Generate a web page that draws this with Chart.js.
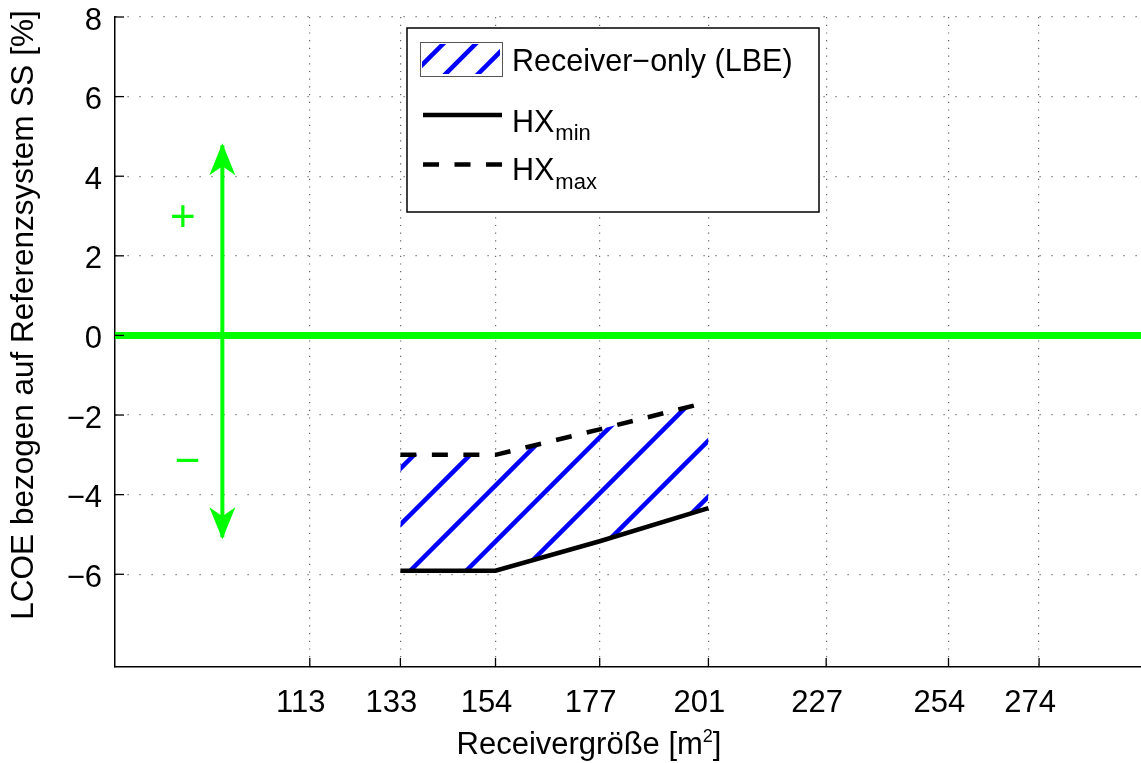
<!DOCTYPE html>
<html>
<head>
<meta charset="utf-8">
<script src="https://cdn.jsdelivr.net/npm/chart.js@4.4.0/dist/chart.umd.min.js"></script>
<style>
  html, body { margin: 0; padding: 0; background: #fff; }
  #lcoe_chart { display: block; }
</style>
</head>
<body>
<canvas id="lcoe_chart" width="1141" height="763"></canvas>
<script>
'use strict';

// Chart data
const receiverSizes = [133, 154, 177, 201];
const hxMin = [-5.91, -5.91, -5.17, -4.34];
const hxMax = [-3.0, -3.0, -2.36, -1.67];
const xTickValues = [113, 133, 154, 177, 201, 227, 254, 274];
const yTickValues = [8, 6, 4, 2, 0, -2, -4, -6];
const xLimits = [70, 296.5];
const yLimits = [-8.33, 8];
const zeroLineY = [0, 0];
const arrowX = [93.7, 93.7];
const arrowY = [4.78, -5.07];
const signText = ['+', '\u2212'];
const signX = [85, 86];
const signY = [2.92, -3.2];

const FONT = "'Liberation Sans', Arial, Helvetica, sans-serif";
const GREEN = 'rgb(0, 255, 0)';
const BLUE = 'rgb(0, 0, 255)';

Chart.defaults.font.family = FONT;
Chart.defaults.color = '#000';

function toPoints(xs, ys) {
  return xs.map((x, i) => ({x: x, y: ys[i]}));
}

function minusFormat(v) {
  return v < 0 ? '\u2212' + Math.abs(v) : String(v);
}

// blue diagonal hatch for the receiver-only band
function makeHatch() {
  const size = 56, offset = 29;
  const tile = document.createElement('canvas');
  tile.width = size;
  tile.height = size;
  const g = tile.getContext('2d');
  g.strokeStyle = BLUE;
  g.lineWidth = 4.5;
  for (let k = -1; k <= 2; k++) {
    const c = offset + k * size;
    g.beginPath();
    g.moveTo(c + 10, -10);
    g.lineTo(-10, c + 10);
    g.stroke();
  }
  return g.createPattern(tile, 'repeat');
}

function font(size) {
  return size + 'px ' + FONT;
}

function drawLegend(ctx) {
  const bx = 407, by = 28, bw = 412, bh = 184;
  ctx.fillStyle = '#fff';
  ctx.fillRect(bx, by, bw, bh);
  ctx.strokeStyle = '#000';
  ctx.lineWidth = 1.5;
  ctx.strokeRect(bx, by, bw, bh);

  // hatch sample
  ctx.strokeStyle = '#555';
  ctx.lineWidth = 1;
  ctx.strokeRect(420.5, 42.5, 82, 34);
  ctx.save();
  ctx.beginPath();
  ctx.rect(422, 44, 78, 30);
  ctx.clip();
  ctx.strokeStyle = BLUE;
  ctx.lineWidth = 4.5;
  [487, 519.5, 552].forEach(c => {
    ctx.beginPath();
    ctx.moveTo(c - 30, 30);
    ctx.lineTo(c - 90, 90);
    ctx.stroke();
  });
  ctx.restore();

  // line samples
  ctx.strokeStyle = '#000';
  ctx.lineWidth = 4.5;
  ctx.beginPath();
  ctx.moveTo(423, 115);
  ctx.lineTo(502, 115);
  ctx.stroke();
  ctx.setLineDash([16, 15.5]);
  ctx.beginPath();
  ctx.moveTo(423, 164.5);
  ctx.lineTo(502, 164.5);
  ctx.stroke();
  ctx.setLineDash([]);

  ctx.fillStyle = '#000';
  ctx.textAlign = 'left';
  ctx.textBaseline = 'alphabetic';
  ctx.font = font(30.5);
  ctx.fillText('Receiver\u2212only (LBE)', 512, 71);
  ctx.fillText('HX', 512, 131.5);
  ctx.fillText('HX', 512, 180);
  const hxw = ctx.measureText('HX').width;
  ctx.font = font(22);
  ctx.fillText('min', 512 + hxw + 1, 140);
  ctx.fillText('max', 512 + hxw + 1, 189);
}

function drawTitles(ctx) {
  ctx.fillStyle = '#000';
  ctx.textBaseline = 'alphabetic';

  // y title
  ctx.save();
  ctx.translate(33, 315);
  ctx.rotate(-Math.PI / 2);
  ctx.textAlign = 'center';
  ctx.font = font(31.5);
  ctx.fillText('LCOE bezogen auf Referenzsystem SS [%]', 0, 0);
  ctx.restore();

  // x title with superscript
  const main = 'Receivergr\u00f6\u00dfe [m', sup = '2', end = ']';
  ctx.font = font(31);
  const w1 = ctx.measureText(main).width;
  const w3 = ctx.measureText(end).width;
  ctx.font = font(18);
  const w2 = ctx.measureText(sup).width;
  const x0 = 589 - (w1 + w2 + w3) / 2;
  const base = 754;
  ctx.textAlign = 'left';
  ctx.font = font(31);
  ctx.fillText(main, x0, base);
  ctx.font = font(18);
  ctx.fillText(sup, x0 + w1, base - 12);
  ctx.font = font(31);
  ctx.fillText(end, x0 + w1 + w2, base);
}

const decorations = {
  id: 'decorations',
  afterDraw(chart) {
    const {ctx, chartArea, scales} = chart;
    const xs = scales.x, ys = scales.y;
    ctx.save();

    // inward tick marks
    ctx.strokeStyle = '#000';
    ctx.lineWidth = 1.3;
    yTickValues.forEach(v => {
      const py = ys.getPixelForValue(v);
      ctx.beginPath();
      ctx.moveTo(chartArea.left, py);
      ctx.lineTo(chartArea.left + 9, py);
      ctx.stroke();
    });
    xTickValues.forEach(v => {
      const px = xs.getPixelForValue(v);
      ctx.beginPath();
      ctx.moveTo(px, chartArea.bottom);
      ctx.lineTo(px, chartArea.bottom - 9);
      ctx.stroke();
    });

    // arrow heads
    ctx.fillStyle = GREEN;
    const ax = xs.getPixelForValue(arrowX[0]);
    const tipTop = ys.getPixelForValue(arrowY[0]);
    const tipBottom = ys.getPixelForValue(arrowY[1]);
    [[tipTop, 1], [tipBottom, -1]].forEach(([ty, d]) => {
      ctx.beginPath();
      ctx.moveTo(ax, ty - 2 * d);
      ctx.lineTo(ax - 13, ty + 30 * d);
      ctx.lineTo(ax, ty + 21 * d);
      ctx.lineTo(ax + 13, ty + 30 * d);
      ctx.closePath();
      ctx.fill();
    });

    // + / - labels
    ctx.font = font(44);
    ctx.textAlign = 'center';
    ctx.textBaseline = 'middle';
    signText.forEach((t, i) => {
      ctx.fillText(t, xs.getPixelForValue(signX[i]), ys.getPixelForValue(signY[i]));
    });

    drawLegend(ctx);
    drawTitles(ctx);
    ctx.restore();
  }
};

const hatch = makeHatch();

new Chart(document.getElementById('lcoe_chart'), {
  type: 'line',
  data: {
    datasets: [{
      label: 'HXmin',
      data: toPoints(receiverSizes, hxMin),
      borderColor: '#000',
      borderWidth: 4.5,
      fill: false
    }, {
      label: 'HXmax',
      data: toPoints(receiverSizes, hxMax),
      borderColor: '#000',
      borderWidth: 4.5,
      borderDash: [16, 15.5],
      backgroundColor: hatch,
      fill: '-1'
    }, {
      label: 'zero',
      data: toPoints(xLimits, zeroLineY),
      borderColor: GREEN,
      borderWidth: 7,
      fill: false
    }, {
      label: 'arrow',
      data: toPoints(arrowX, arrowY),
      borderColor: GREEN,
      borderWidth: 4,
      fill: false
    }]
  },
  options: {
    responsive: false,
    animation: false,
    elements: {
      point: { radius: 0 },
      line: { tension: 0 }
    },
    layout: {
      padding: { top: 17, right: 0, left: 0, bottom: 0 }
    },
    plugins: {
      legend: { display: false },
      tooltip: { enabled: false }
    },
    scales: {
      x: {
        type: 'linear',
        min: xLimits[0],
        max: xLimits[1],
        afterBuildTicks: scale => {
          scale.ticks = xTickValues.map(v => ({value: v}));
        },
        afterFit: scale => {
          scale.height = 96;
          scale.paddingLeft = 0;
          scale.paddingRight = 0;
        },
        grid: {
          color: 'rgba(0,0,0,0.6)',
          lineWidth: 1.2,
          drawTicks: false
        },
        border: {
          display: true,
          color: '#000',
          width: 1.5,
          dash: [1.2, 6.5]
        },
        ticks: {
          font: { size: 31, lineHeight: 1 },
          padding: 21,
          labelOffset: -9,
          maxRotation: 0,
          autoSkip: false,
          callback: v => String(v)
        }
      },
      y: {
        min: yLimits[0],
        max: yLimits[1],
        afterBuildTicks: scale => {
          scale.ticks = yTickValues.map(v => ({value: v}));
        },
        afterFit: scale => {
          scale.width = 115;
          scale.paddingTop = 0;
          scale.paddingBottom = 0;
        },
        grid: {
          color: 'rgba(0,0,0,0.6)',
          lineWidth: 1.2,
          drawTicks: false
        },
        border: {
          display: true,
          color: '#000',
          width: 1.5,
          dash: [1.2, 10.8]
        },
        ticks: {
          font: { size: 31, lineHeight: 1 },
          padding: 13,
          labelOffset: 4,
          autoSkip: false,
          callback: v => minusFormat(v)
        }
      }
    }
  },
  plugins: [decorations]
});
</script>
</body>
</html>
